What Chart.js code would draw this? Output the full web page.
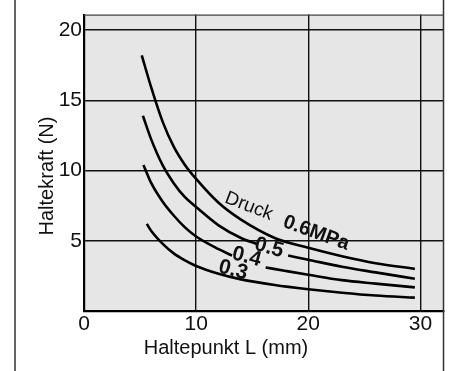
<!DOCTYPE html>
<html>
<head>
<meta charset="utf-8">
<script src="https://cdn.jsdelivr.net/npm/chart.js"></script>
<style>
html, body { margin: 0; padding: 0; background: #fff; }
#wrap { width: 451px; height: 371px; position: relative; }
</style>
</head>
<body>
<div id="wrap"><canvas id="haltekraftChart"></canvas></div>
<script>
// Haltekraft ueber Haltepunkt, eine Kurve je Druck (MPa)
var druck = ['0.6', '0.5', '0.4', '0.3'];

var x06 = [5.15, 6, 7, 8, 9, 10, 12, 14, 17, 20, 23, 26, 29.5];
var y06 = [18.2, 15.9, 13.5, 11.7, 10.4, 9.4, 7.7, 6.5, 5.2, 4.5, 3.9, 3.4, 3.0];

var x05 = [5.25, 6, 7, 8, 9, 10, 12, 14, 15.5, 16.8, 18.2, 20, 23, 26, 29.5];
var y05 = [13.9, 12.2, 10.4, 9.1, 8.1, 7.4, 6.1, 5.2, 4.75, null, 3.95, 3.65, 3.15, 2.75, 2.3];

var x04 = [5.3, 6, 7, 8, 9, 10, 12, 13.2, 14.7, 16.2, 18, 20, 23, 26, 29.5];
var y04 = [10.4, 9.1, 7.8, 6.8, 5.95, 5.3, 4.4, 3.95, null, 3.1, 2.85, 2.58, 2.2, 1.95, 1.68];

var x03 = [5.6, 6, 7, 8, 9, 10, 12, 14, 17, 20, 23, 26, 29.5];
var y03 = [6.2, 5.7, 4.8, 4.1, 3.6, 3.2, 2.65, 2.25, 1.85, 1.55, 1.3, 1.1, 0.95];

var xTicks = [0, 10, 20, 30];
var yTicks = [5, 10, 15, 20];

var xTitle = 'Haltepunkt L (mm)';
var yTitle = 'Haltekraft (N)';

// Beschriftungen an den Kurven (Datenkoordinaten)
var kurvenText = ['Druck', '0.6MPa', '0.5', '0.4', '0.3'];
var kurvenTextX = [14.7, 20.7, 16.5, 14.5, 13.3];
var kurvenTextY = [7.45, 5.55, 4.5, 3.85, 2.9];

var FONT = '"Liberation Sans", Arial, Helvetica, sans-serif';

function punkte(xs, ys) {
    var out = [];
    for (let i = 0; i < xs.length; i++) {
        out.push({ x: xs[i], y: ys[i] });
    }
    return out;
}

var serien = [punkte(x06, y06), punkte(x05, y05), punkte(x04, y04), punkte(x03, y03)];

var datasets = [];
for (let i = 0; i < serien.length; i++) {
    datasets.push({
        label: druck[i] + ' MPa',
        data: serien[i],
        borderColor: '#000',
        borderWidth: 2.6,
        pointRadius: 0,
        fill: false,
        spanGaps: false,
        cubicInterpolationMode: 'monotone'
    });
}

var rahmenPlugin = {
    id: 'rahmen',
    beforeDraw: function (chart) {
        var ctx = chart.ctx, a = chart.chartArea;
        ctx.save();
        ctx.fillStyle = '#e6e6e6';
        ctx.fillRect(a.left, a.top, a.right - a.left, a.bottom - a.top);
        ctx.restore();
    },
    afterDraw: function (chart) {
        var ctx = chart.ctx, a = chart.chartArea;
        var sx = chart.scales.x, sy = chart.scales.y;
        ctx.save();
        // obere Kante
        ctx.strokeStyle = '#444';
        ctx.lineWidth = 1.2;
        ctx.beginPath();
        ctx.moveTo(a.left, a.top + 0.5);
        ctx.lineTo(a.right, a.top + 0.5);
        ctx.stroke();
        // aeusserer Rahmen
        ctx.strokeStyle = '#333';
        ctx.lineWidth = 1.5;
        ctx.beginPath();
        ctx.moveTo(15, 0);
        ctx.lineTo(15, chart.height);
        ctx.moveTo(a.right - 0.5, 0);
        ctx.lineTo(a.right - 0.5, chart.height);
        ctx.stroke();

        // Achsentitel
        ctx.fillStyle = '#111';
        ctx.font = '20px ' + FONT;
        ctx.textAlign = 'center';
        ctx.textBaseline = 'middle';
        ctx.fillText(xTitle, 226, 348);
        ctx.save();
        ctx.translate(47, 176);
        ctx.rotate(-Math.PI / 2);
        ctx.fillText(yTitle, 0, 0);
        ctx.restore();

        // Kurvenbeschriftung
        for (let i = 0; i < kurvenText.length; i++) {
            var px = sx.getPixelForValue(kurvenTextX[i]);
            var py = sy.getPixelForValue(kurvenTextY[i]);
            ctx.save();
            ctx.translate(px, py);
            if (i === 0) {
                ctx.rotate(21 * Math.PI / 180);
                ctx.font = '19px ' + FONT;
            } else if (i === 1) {
                ctx.rotate(20 * Math.PI / 180);
                ctx.font = 'bold 20px ' + FONT;
            } else {
                ctx.rotate(15 * Math.PI / 180);
                ctx.font = 'bold 21px ' + FONT;
            }
            ctx.fillText(kurvenText[i], 0, 0);
            ctx.restore();
        }
        ctx.restore();
    }
};

var ctx = document.getElementById('haltekraftChart').getContext('2d');
new Chart(ctx, {
    type: 'line',
    data: { datasets: datasets },
    plugins: [rahmenPlugin],
    options: {
        responsive: true,
        maintainAspectRatio: false,
        animation: false,
        layout: { padding: { top: 3, right: 7, left: 0, bottom: 0 } },
        plugins: {
            legend: { display: false },
            tooltip: { enabled: false }
        },
        scales: {
            x: {
                type: 'linear',
                min: 0,
                max: 32.1,
                afterBuildTicks: function (axis) {
                    axis.ticks = xTicks.map(function (v) { return { value: v }; });
                },
                afterFit: function (scale) { scale.height = 60; },
                grid: { color: '#111', lineWidth: 1.4, drawTicks: false },
                border: { display: true, color: '#000', width: 2.2 },
                ticks: { color: '#111', padding: 1, font: { size: 21, family: FONT }, maxRotation: 0 }
            },
            y: {
                type: 'linear',
                min: 0,
                max: 21.1,
                afterBuildTicks: function (axis) {
                    axis.ticks = yTicks.map(function (v) { return { value: v }; });
                },
                afterFit: function (scale) { scale.width = 84; },
                grid: { color: '#111', lineWidth: 1.4, drawTicks: false },
                border: { display: true, color: '#000', width: 2.2 },
                ticks: { color: '#111', padding: 2, font: { size: 21, family: FONT } }
            }
        }
    }
});
</script>
</body>
</html>
